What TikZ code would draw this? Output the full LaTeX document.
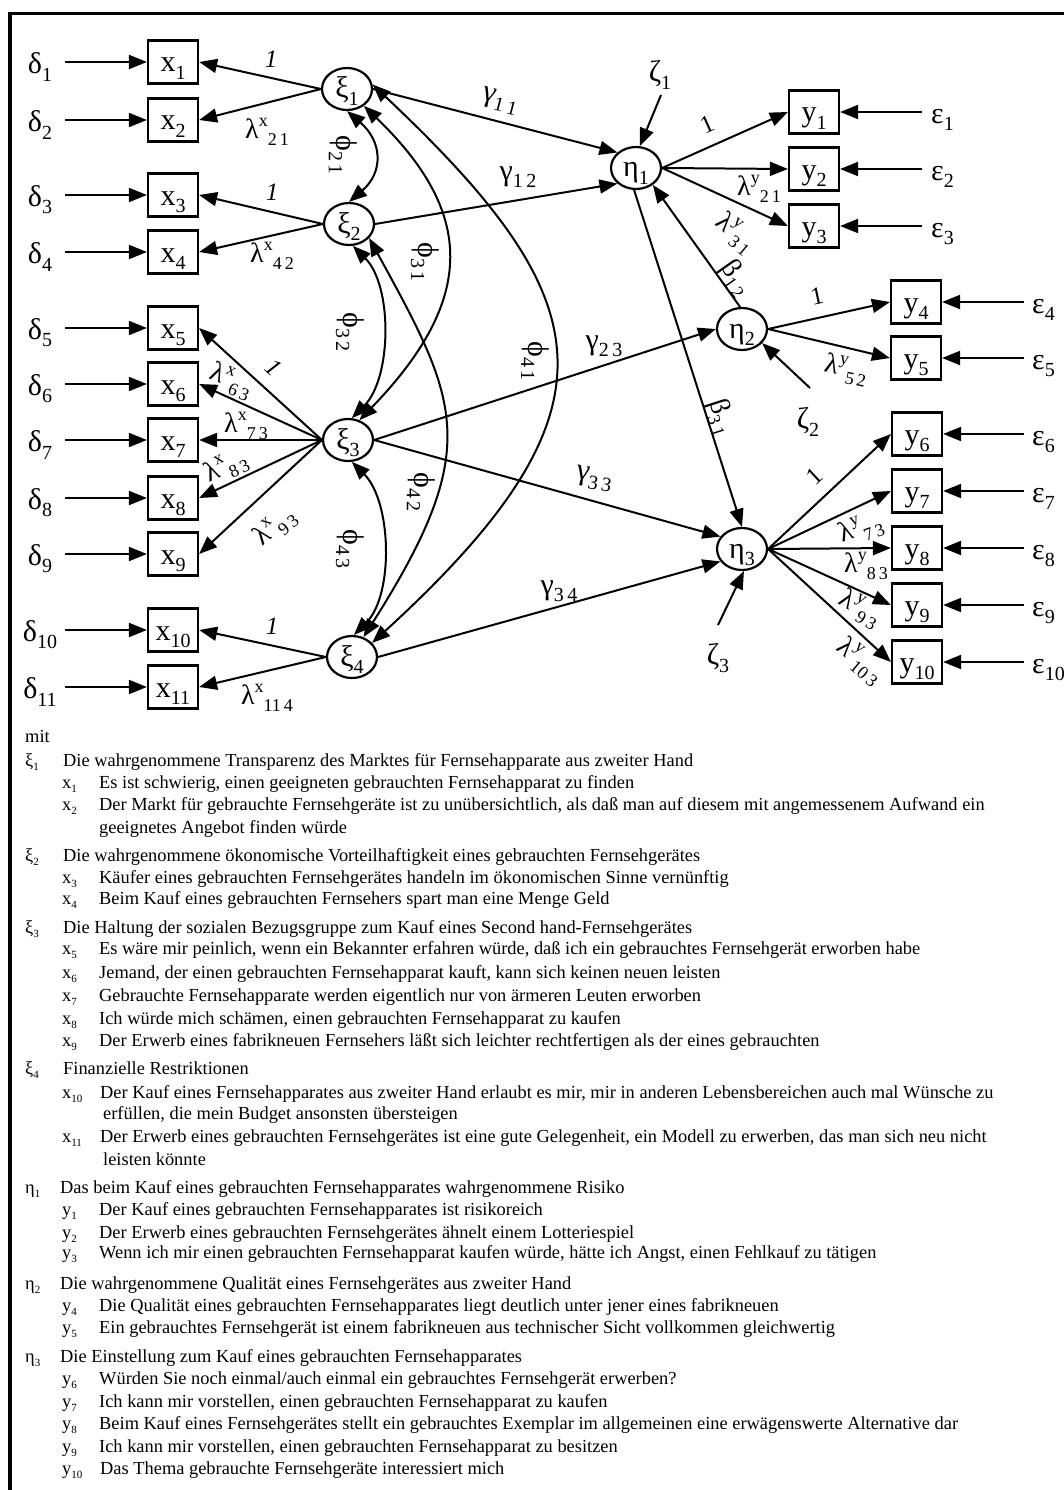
\documentclass[tikz,border=0pt]{standalone}
\usepackage{fontspec}
\setmainfont{Liberation Serif}
\usetikzlibrary{shapes.geometric,arrows.meta}
\newcommand\bigf{\fontsize{30}{34}\selectfont}
\newcommand\labf{\fontsize{28}{32}\selectfont}
\newcommand\onef{\fontsize{25}{27}\selectfont}
\newcommand\legf{\fontsize{18.4}{22}\selectfont}
\newcommand\dsub[1]{\raisebox{-0.24em}{\fontsize{20}{20}\selectfont #1}}
\newcommand\psub[1]{\raisebox{-0.24em}{\fontsize{18}{18}\selectfont #1}}
\newcommand\psup[1]{\raisebox{0.42em}{\fontsize{18}{18}\selectfont #1}}
\newcommand\lsub[1]{\raisebox{-0.25em}{\fontsize{11}{11}\selectfont #1}}
\begin{document}
\begin{tikzpicture}[x=1pt,y=-1pt,
  obs/.style={draw, line width=2.2pt, minimum width=50pt, minimum height=43pt, inner sep=0pt, font=\bigf, text height=27pt, text depth=7pt},
  lat/.style={draw, ellipse, line width=2.2pt, minimum width=50pt, minimum height=42pt, inner sep=0pt, font=\bigf, text height=20pt, text depth=2pt},
  lbl/.style={inner sep=0pt, font=\bigf},
  plbl/.style={inner sep=0pt, font=\labf},
  one/.style={inner sep=0pt, font=\onef},
  arr/.style={line width=2pt, -{Triangle[length=18pt,width=14pt]}},
  dbl/.style={line width=2pt, {Triangle[length=18pt,width=14pt]}-{Triangle[length=18pt,width=14pt]}},
  leg/.style={anchor=base west, inner sep=0pt, font=\legf}]
\path[fill=white] (0,0) rectangle (1064,1490);
\useasboundingbox (0,0) rectangle (1064,1490);
\draw[line width=3.4pt] (10,1500) -- (10,13.5) -- (1070,13.5);

% x indicators with delta
\foreach \n/\y in {1/62,2/120,3/195,4/252,5/328,6/384,7/440,8/498,9/554,10/630,11/687} {
  \node[obs] (x\n) at (173,\y) {x\dsub{\n}};
  \node[lbl] (d\n) at (40,\y+5) {δ\dsub{\n}};
  \coordinate (ds\n) at (65,\y);
  \draw[arr] (ds\n) -- (x\n.west);
}
% y indicators with epsilon
\foreach \n/\xx/\y in {1/814/112,2/814/169,3/814/226,4/916/302,5/916/358,6/917/434,7/917/491,8/917/548,9/917/605,10/917/662} {
  \node[obs] (y\n) at (\xx,\y) {y\dsub{\n}};
}
\foreach \n/\y in {1/112,2/169,3/226} {
  \node[lbl,anchor=west] (e\n) at (931,\y+8) {ε\dsub{\n}};
  \coordinate (es\n) at (922,\y);
  \draw[arr] (es\n) -- (y\n.east);
}
\foreach \n/\y in {4/302,5/358,6/434,7/491,8/548,9/605,10/662} {
  \node[lbl,anchor=west] (e\n) at (1032,\y+8) {ε\dsub{\n}};
  \coordinate (es\n) at (1024,\y);
  \draw[arr] (es\n) -- (y\n.east);
}

% latent variables
\node[lat] (xi1) at (347,89) {ξ\dsub{1}};
\node[lat] (xi2) at (349,224) {ξ\dsub{2}};
\node[lat] (xi3) at (348,440) {ξ\dsub{3}};
\node[lat] (xi4) at (352,657) {ξ\dsub{4}};
\node[lat] (eta1) at (636,168) {η\dsub{1}};
\node[lat] (eta2) at (742,329) {η\dsub{2}};
\node[lat] (eta3) at (742,549) {η\dsub{3}};

% loadings x
\draw[arr] (xi1.west) -- (x1.east);
\draw[arr] (xi1.west) -- (x2.east);
\draw[arr] (xi2.west) -- (x3.east);
\draw[arr] (xi2.west) -- (x4.east);
\foreach \n in {5,6,7,8,9} {\draw[arr] (xi3.west) -- (x\n.east);}
\draw[arr] (xi4.west) -- (x10.east);
\draw[arr] (xi4.west) -- (x11.east);

% loadings y
\foreach \n in {1,2,3} {\draw[arr] (eta1.east) -- (y\n.west);}
\foreach \n in {4,5} {\draw[arr] (eta2.east) -- (y\n.west);}
\foreach \n in {6,7,8,9,10} {\draw[arr] (eta3.east) -- (y\n.west);}

% structural paths
\draw[arr] (xi1.east) -- (eta1.140);
\draw[arr] (xi2.east) -- (eta1.220);
\draw[arr] (xi3.east) -- (eta2.west);
\draw[arr] (xi3.east) -- (eta3.150);
\draw[arr] (xi4.east) -- (eta3.210);
\draw[arr] (eta2.95) -- (eta1.-45);
\draw[arr] (eta1.265) -- (eta3.north);

% zeta
\node[lbl] (z1) at (660,75) {ζ\dsub{1}};
\node[lbl] (z2) at (808,422) {ζ\dsub{2}};
\node[lbl] (z3) at (718,658) {ζ\dsub{3}};
\coordinate (zs1) at (661,95);
\coordinate (zs2) at (810,388);
\coordinate (zs3) at (718,625);
\draw[arr] (zs1) -- (eta1.80);
\draw[arr] (zs2) -- (eta2.-35);
\draw[arr] (zs3) -- (eta3.-85);

% covariances
\draw[dbl] (xi1.south) .. controls +(35,30) and +(35,-30) .. (xi2.north);
\draw[dbl] (xi1.-45) .. controls +(110,106) and +(118,-122) .. (xi3.60);
\draw[dbl] (xi1.10) .. controls +(228,215) and +(257,-235) .. (xi4.35);
\draw[dbl] (xi2.-80) .. controls +(40,40) and +(40,-40) .. (xi3.80);
\draw[dbl] (xi2.-35) .. controls +(90,164) and +(120,-189) .. (xi4.60);
\draw[dbl] (xi3.-80) .. controls +(40,40) and +(40,-40) .. (xi4.85);

% labels x side
\node[one,font=\onef\itshape] (o1) at (271,59) {1};
\node[plbl] (l21) at (267,132) {λ\psup{x}\psub{2\,1}};
\node[one,font=\onef\itshape] (o3) at (272,192) {1};
\node[plbl] (l42) at (272,256) {λ\psup{x}\psub{4\,2}};
\node[one,font=\onef\itshape,rotate=-42] (o5) at (274,368) {1};
\node[plbl,rotate=-22] (l63) at (231,381) {λ\psup{x}\psub{6\,3}};
\node[plbl] (l73) at (246,426) {λ\psup{x}\psub{7\,3}};
\node[plbl,rotate=25] (l83) at (226,467) {λ\psup{x}\psub{8\,3}};
\node[plbl,rotate=40] (l93) at (275,527) {λ\psup{x}\psub{9\,3}};
\node[one,font=\onef\itshape] (o10) at (272,626) {1};
\node[plbl] (l114) at (267,698) {λ\psup{x}\psub{11\,4}};

% phi labels
\node[lbl,rotate=-90] (p21) at (343,155) {ϕ\dsub{2\,1}};
\node[lbl,rotate=-90] (p31) at (425,262) {ϕ\dsub{3\,1}};
\node[lbl,rotate=-90] (p32) at (350,332) {ϕ\dsub{3\,2}};
\node[lbl,rotate=-90] (p42) at (421,492) {ϕ\dsub{4\,2}};
\node[lbl,rotate=-90] (p41) at (535,361) {ϕ\dsub{4\,1}};
\node[lbl,rotate=-90] (p43) at (350,549) {ϕ\dsub{4\,3}};

% gamma, beta labels
\node[lbl,rotate=-15] (g11) at (500,101) {γ\dsub{1\,1}};
\node[lbl] (g12) at (518,177) {γ\dsub{1\,2}};
\node[lbl] (g23) at (604,346) {γ\dsub{2\,3}};
\node[lbl,rotate=-10] (g33) at (594,479) {γ\dsub{3\,3}};
\node[lbl] (g34) at (559,591) {γ\dsub{3\,4}};
\node[plbl,rotate=-55] (b12) at (736,278) {β\psub{1\,2}};
\node[plbl,rotate=-72] (b31) at (721,417) {β\psub{3\,1}};

% labels y side
\node[one,rotate=24] (u1) at (707,124) {1};
\node[plbl] (m21) at (759,189) {λ\psup{y}\psub{2\,1}};
\node[plbl,rotate=-40] (m31) at (735,233) {λ\psup{y}\psub{3\,1}};
\node[one,rotate=12] (u4) at (817,296) {1};
\node[plbl,rotate=-12] (m52) at (846,370) {λ\psup{y}\psub{5\,2}};
\node[one,rotate=43] (u6) at (814,476) {1};
\node[plbl,rotate=20] (m73) at (861,529) {λ\psup{y}\psub{7\,3}};
\node[plbl] (m83) at (866,566) {λ\psup{y}\psub{8\,3}};
\node[plbl,rotate=-30] (m93) at (860,609) {λ\psup{y}\psub{9\,3}};
\node[plbl,rotate=-40] (m103) at (860,661) {λ\psup{y}\psub{10\,3}};

% legend
\node[leg] (mit) at (25,742) {mit};
\node[leg] (sxi1) at (25,766) {ξ\lsub{1}};
\node[leg] (txi1) at (63,766) {Die wahrgenommene Transparenz des Marktes für Fernsehapparate aus zweiter Hand};
\node[leg] (sx1) at (62,788) {x\lsub{1}};
\node[leg] (tx1) at (99,788) {Es ist schwierig, einen geeigneten gebrauchten Fernsehapparat zu finden};
\node[leg] (sx2) at (62,810) {x\lsub{2}};
\node[leg] (tx2) at (99,810) {Der Markt für gebrauchte Fernsehgeräte ist zu unübersichtlich, als daß man auf diesem mit angemessenem Aufwand ein};
\node[leg] (tx2b) at (99,833) {geeignetes Angebot finden würde};
\node[leg] (sxi2) at (25,861) {ξ\lsub{2}};
\node[leg] (txi2) at (63,861) {Die wahrgenommene ökonomische Vorteilhaftigkeit eines gebrauchten Fernsehgerätes};
\node[leg] (sx3) at (62,883) {x\lsub{3}};
\node[leg] (tx3) at (99,883) {Käufer eines gebrauchten Fernsehgerätes handeln im ökonomischen Sinne vernünftig};
\node[leg] (sx4) at (62,904) {x\lsub{4}};
\node[leg] (tx4) at (99,904) {Beim Kauf eines gebrauchten Fernsehers spart man eine Menge Geld};
\node[leg] (sxi3) at (25,933) {ξ\lsub{3}};
\node[leg] (txi3) at (63,933) {Die Haltung der sozialen Bezugsgruppe zum Kauf eines Second hand-Fernsehgerätes};
\node[leg] (sx5) at (62,954) {x\lsub{5}};
\node[leg] (tx5) at (99,954) {Es wäre mir peinlich, wenn ein Bekannter erfahren würde, daß ich ein gebrauchtes Fernsehgerät erworben habe};
\node[leg] (sx6) at (62,978) {x\lsub{6}};
\node[leg] (tx6) at (99,978) {Jemand, der einen gebrauchten Fernsehapparat kauft, kann sich keinen neuen leisten};
\node[leg] (sx7) at (62,1001) {x\lsub{7}};
\node[leg] (tx7) at (99,1001) {Gebrauchte Fernsehapparate werden eigentlich nur von ärmeren Leuten erworben};
\node[leg] (sx8) at (62,1024) {x\lsub{8}};
\node[leg] (tx8) at (99,1024) {Ich würde mich schämen, einen gebrauchten Fernsehapparat zu kaufen};
\node[leg] (sx9) at (62,1046) {x\lsub{9}};
\node[leg] (tx9) at (99,1046) {Der Erwerb eines fabrikneuen Fernsehers läßt sich leichter rechtfertigen als der eines gebrauchten};
\node[leg] (sxi4) at (25,1074) {ξ\lsub{4}};
\node[leg] (txi4) at (63,1074) {Finanzielle Restriktionen};
\node[leg] (sx10) at (62,1098) {x\lsub{10}};
\node[leg] (tx10) at (100,1098) {Der Kauf eines Fernsehapparates aus zweiter Hand erlaubt es mir, mir in anderen Lebensbereichen auch mal Wünsche zu};
\node[leg] (tx10b) at (103,1119) {erfüllen, die mein Budget ansonsten übersteigen};
\node[leg] (sx11) at (62,1142) {x\lsub{11}};
\node[leg] (tx11) at (100,1142) {Der Erwerb eines gebrauchten Fernsehgerätes ist eine gute Gelegenheit, ein Modell zu erwerben, das man sich neu nicht};
\node[leg] (tx11b) at (103,1165) {leisten könnte};
\node[leg] (seta1) at (25,1193) {η\lsub{1}};
\node[leg] (teta1) at (60,1193) {Das beim Kauf eines gebrauchten Fernsehapparates wahrgenommene Risiko};
\node[leg] (sy1) at (62,1215) {y\lsub{1}};
\node[leg] (ty1) at (99,1215) {Der Kauf eines gebrauchten Fernsehapparates ist risikoreich};
\node[leg] (sy2) at (62,1238) {y\lsub{2}};
\node[leg] (ty2) at (99,1238) {Der Erwerb eines gebrauchten Fernsehgerätes ähnelt einem Lotteriespiel};
\node[leg] (sy3) at (62,1258) {y\lsub{3}};
\node[leg] (ty3) at (99,1258) {Wenn ich mir einen gebrauchten Fernsehapparat kaufen würde, hätte ich Angst, einen Fehlkauf zu tätigen};
\node[leg] (seta2) at (25,1289) {η\lsub{2}};
\node[leg] (teta2) at (60,1289) {Die wahrgenommene Qualität eines Fernsehgerätes aus zweiter Hand};
\node[leg] (sy4) at (62,1311) {y\lsub{4}};
\node[leg] (ty4) at (99,1311) {Die Qualität eines gebrauchten Fernsehapparates liegt deutlich unter jener eines fabrikneuen};
\node[leg] (sy5) at (62,1333) {y\lsub{5}};
\node[leg] (ty5) at (99,1333) {Ein gebrauchtes Fernsehgerät ist einem fabrikneuen aus technischer Sicht vollkommen gleichwertig};
\node[leg] (seta3) at (25,1362) {η\lsub{3}};
\node[leg] (teta3) at (60,1362) {Die Einstellung zum Kauf eines gebrauchten Fernsehapparates};
\node[leg] (sy6) at (62,1384) {y\lsub{6}};
\node[leg] (ty6) at (99,1384) {Würden Sie noch einmal/auch einmal ein gebrauchtes Fernsehgerät erwerben?};
\node[leg] (sy7) at (62,1407) {y\lsub{7}};
\node[leg] (ty7) at (99,1407) {Ich kann mir vorstellen, einen gebrauchten Fernsehapparat zu kaufen};
\node[leg] (sy8) at (62,1429) {y\lsub{8}};
\node[leg] (ty8) at (99,1429) {Beim Kauf eines Fernsehgerätes stellt ein gebrauchtes Exemplar im allgemeinen eine erwägenswerte Alternative dar};
\node[leg] (sy9) at (62,1452) {y\lsub{9}};
\node[leg] (ty9) at (99,1452) {Ich kann mir vorstellen, einen gebrauchten Fernsehapparat zu besitzen};
\node[leg] (sy10) at (62,1474) {y\lsub{10}};
\node[leg] (ty10) at (100,1474) {Das Thema gebrauchte Fernsehgeräte interessiert mich};
\end{tikzpicture}
\end{document}
